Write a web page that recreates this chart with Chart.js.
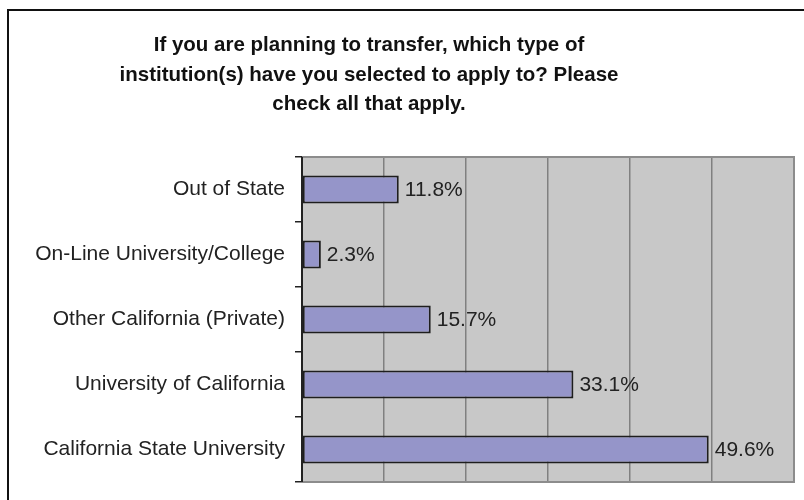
<!DOCTYPE html>
<html>
<head>
<meta charset="utf-8">
<script src="https://cdn.jsdelivr.net/npm/chart.js@4.4.0/dist/chart.umd.min.js"></script>
<style>
  html, body { margin: 0; padding: 0; background: #fff; }
  #wrap { width: 804px; height: 500px; position: relative; }
</style>
</head>
<body>
<div id="wrap"><canvas id="transferChart" width="804" height="500"></canvas></div>
<script>
// chart values
const categories = [
    'Out of State',
    'On-Line University/College',
    'Other California (Private)',
    'University of California',
    'California State University'
];
const percentValues = [11.8, 2.3, 15.7, 33.1, 49.6];
const titleLines = [
    'If you are planning to transfer, which type of',
    'institution(s) have you selected to apply to? Please',
    'check all that apply.'
];
const axisMax = 60;
const axisStep = 10;

const fontFamily = "'Liberation Sans', Arial, Helvetica, sans-serif";

// outer frame + title, drawn by hand because the title is not centred on the canvas
const framePlugin = {
    id: 'frame',
    beforeDraw(chart) {
        const ctx = chart.ctx;
        ctx.save();
        ctx.fillStyle = '#fff';
        ctx.fillRect(0, 0, chart.width, chart.height);
        ctx.strokeStyle = '#111';
        ctx.lineWidth = 2;
        ctx.beginPath();
        ctx.moveTo(8, chart.height);
        ctx.lineTo(8, 10);
        ctx.lineTo(chart.width, 10);
        ctx.stroke();

        ctx.fillStyle = '#111';
        ctx.font = 'bold 20.5px ' + fontFamily;
        ctx.textAlign = 'center';
        ctx.textBaseline = 'alphabetic';
        titleLines.forEach((line, i) => {
            ctx.fillText(line, 369, 51 + i * 29.5);
        });

        // grey plot background
        const a = chart.chartArea;
        ctx.fillStyle = '#c8c8c8';
        ctx.fillRect(a.left, a.top, a.right - a.left, a.bottom - a.top);
        ctx.restore();
    },
    afterDatasetsDraw(chart) {
        const ctx = chart.ctx;
        const a = chart.chartArea;
        ctx.save();
        // plot border: grey on three sides, dark axis on the left
        ctx.strokeStyle = '#8c8c8c';
        ctx.lineWidth = 2;
        ctx.beginPath();
        ctx.moveTo(a.left, a.top);
        ctx.lineTo(a.right, a.top);
        ctx.lineTo(a.right, a.bottom);
        ctx.lineTo(a.left, a.bottom);
        ctx.stroke();
        ctx.strokeStyle = '#222';
        ctx.beginPath();
        ctx.moveTo(a.left, a.top);
        ctx.lineTo(a.left, a.bottom);
        ctx.stroke();

        // value labels at the bar ends
        const meta = chart.getDatasetMeta(0);
        ctx.fillStyle = '#222';
        ctx.font = '21px ' + fontFamily;
        ctx.textAlign = 'left';
        ctx.textBaseline = 'middle';
        meta.data.forEach((bar, i) => {
            ctx.fillText(percentValues[i].toFixed(1) + '%', bar.x + 6, bar.y + 1);
        });
        ctx.restore();
    }
};

new Chart(document.getElementById('transferChart'), {
    type: 'bar',
    data: {
        labels: categories,
        datasets: [{
            data: percentValues,
            backgroundColor: '#9595c9',
            borderColor: '#1e1e1e',
            borderWidth: 2,
            borderSkipped: false,
            categoryPercentage: 1,
            barPercentage: 0.43
        }]
    },
    options: {
        indexAxis: 'y',
        responsive: false,
        animation: false,
        layout: { padding: { top: 157, right: 10, bottom: 18, left: 0 } },
        plugins: {
            legend: { display: false },
            title: { display: false },
            tooltip: { enabled: false }
        },
        scales: {
            x: {
                min: 0,
                max: axisMax,
                ticks: { display: false, stepSize: axisStep },
                grid: { color: '#808080', lineWidth: 1.5, drawTicks: false },
                border: { display: false },
                afterFit(scale) {
                    scale.height = 0;
                    scale.paddingLeft = 0;
                    scale.paddingRight = 0;
                }
            },
            y: {
                ticks: {
                    color: '#222',
                    font: { family: fontFamily, size: 21 },
                    padding: 10
                },
                grid: {
                    drawOnChartArea: false,
                    color: '#222',
                    lineWidth: 1.5,
                    tickLength: 7
                },
                border: { display: false },
                afterFit(scale) {
                    // fixed label column, and no extra label padding above/below the plot
                    scale.width = 302;
                    scale.paddingTop = 0;
                    scale.paddingBottom = 0;
                }
            }
        }
    },
    plugins: [framePlugin]
});
</script>
</body>
</html>
